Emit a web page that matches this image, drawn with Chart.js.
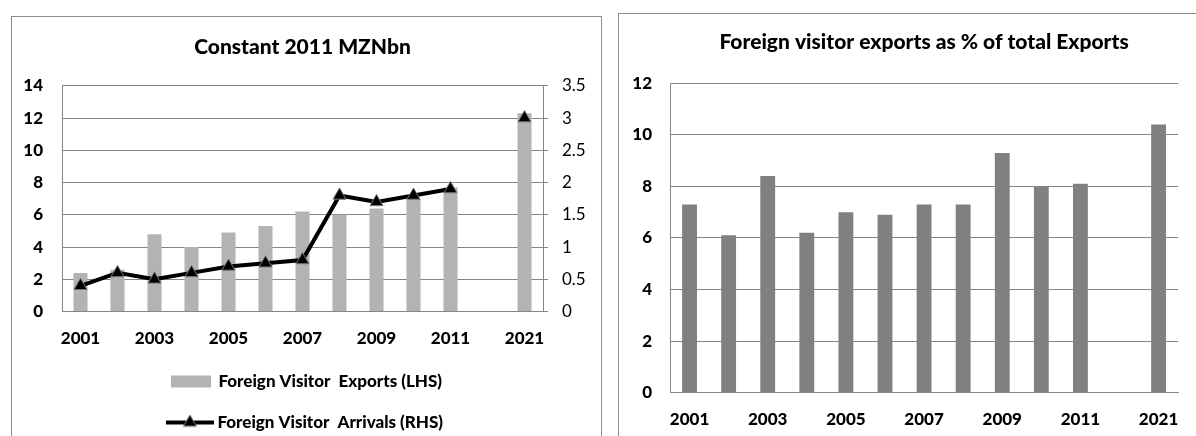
<!DOCTYPE html>
<html>
<head>
<meta charset="utf-8">
<script src="https://cdn.jsdelivr.net/npm/chart.js@4"></script>
<style>
  html, body { margin: 0; padding: 0; background: #fff; width: 1196px; height: 436px; overflow: hidden; }
  .box { position: absolute; border: 1px solid #8c8c8c; background: #fff; overflow: hidden; }
  #boxLeft { left: 11px; top: 16px; width: 589px; height: 440px; }
  #boxRight { left: 618px; top: 13px; width: 600px; height: 440px; }
  canvas { position: absolute; left: 0; top: 0; }
</style>
</head>
<body>
<div class="box" id="boxLeft"><canvas id="mznChart" width="588" height="424"></canvas></div>
<div class="box" id="boxRight"><canvas id="shareChart" width="577" height="422"></canvas></div>
<script>
// years on the x axis, with an empty slot before 2021
const years = ['2001', '2002', '2003', '2004', '2005', '2006', '2007', '2008', '2009', '2010', '2011', '', '2021'];

// constant 2011 MZN bn (left axis)
const visitorExports = [2.4, 2.6, 4.8, 4.0, 4.9, 5.3, 6.2, 6.0, 6.4, 7.0, 7.7, null, 12.3];
// arrivals, millions (right axis)
const visitorArrivals = [0.4, 0.6, 0.5, 0.6, 0.7, 0.75, 0.8, 1.8, 1.7, 1.8, 1.9, null, 3.0];
// foreign visitor exports as % of total exports
const exportShare = [7.3, 6.1, 8.4, 6.2, 7.0, 6.9, 7.3, 7.3, 9.3, 8.0, 8.1, null, 10.4];

const gridGrey = '#868686';
const lightBar = '#b3b3b3';
const darkBar = '#808080';

Chart.defaults.font.family = 'Lato';
Chart.defaults.color = '#000';

const boldFont = { family: 'Lato', size: 17, weight: 900 };
const titleFont = { family: 'Lato', size: 21, weight: 900 };

// only every other year gets a label
const everyOther = (v, i) => (i % 2 === 0 ? years[i] : '');

// small pictures used as legend symbols
function legendSymbol(draw) {
  const c = document.createElement('canvas');
  c.width = 50;
  c.height = 16;
  draw(c.getContext('2d'));
  return c;
}

const barSymbol = legendSymbol(ctx => {
  ctx.fillStyle = lightBar;
  ctx.fillRect(6, 2, 40, 12);
});

const lineSymbol = legendSymbol(ctx => {
  ctx.strokeStyle = '#000';
  ctx.lineWidth = 4;
  ctx.beginPath();
  ctx.moveTo(2, 8);
  ctx.lineTo(50, 8);
  ctx.stroke();
  const r = 7.5, cx = 26, cy = 8;
  ctx.beginPath();
  for (let k = 0; k < 3; k++) {
    const a = k * 2 * Math.PI / 3;
    const px = cx + Math.sin(a) * r, py = cy - Math.cos(a) * r;
    if (k === 0) ctx.moveTo(px, py); else ctx.lineTo(px, py);
  }
  ctx.closePath();
  ctx.fillStyle = '#000';
  ctx.fill();
  ctx.strokeStyle = '#777';
  ctx.lineWidth = 1;
  ctx.stroke();
});

function drawCharts() {
  new Chart(document.getElementById('mznChart'), {
    data: {
      labels: years,
      datasets: [
        {
          type: 'bar',
          label: 'Foreign Visitor  Exports (LHS)',
          data: visitorExports,
          backgroundColor: lightBar,
          categoryPercentage: 1,
          barPercentage: 0.38,
          yAxisID: 'y',
          order: 1
        },
        {
          type: 'line',
          label: 'Foreign Visitor  Arrivals (RHS)',
          data: visitorArrivals,
          borderColor: '#000',
          borderWidth: 4,
          pointStyle: 'triangle',
          pointRadius: 7.5,
          pointBackgroundColor: '#000',
          pointBorderColor: '#777',
          pointBorderWidth: 1,
          spanGaps: false,
          tension: 0,
          yAxisID: 'y1',
          order: 0
        }
      ]
    },
    options: {
      responsive: false,
      animation: false,
      layout: { padding: 0 },
      plugins: {
        title: {
          display: true,
          fullSize: false,
          text: 'Constant 2011 MZNbn',
          font: titleFont,
          color: '#000',
          padding: { top: 17.4, bottom: 26.2 }
        },
        legend: {
          position: 'bottom',
          labels: {
            usePointStyle: true,
            pointStyleWidth: 40,
            padding: 24,
            font: boldFont,
            color: '#000',
            generateLabels: chart => chart.data.datasets.map((ds, i) => ({
              text: ds.label,
              pointStyle: i === 0 ? barSymbol : lineSymbol,
              fillStyle: 'transparent',
              strokeStyle: 'transparent',
              lineWidth: 0,
              hidden: false,
              datasetIndex: i
            }))
          }
        },
        tooltip: { enabled: false }
      },
      scales: {
        x: {
          grid: { display: false, drawTicks: false },
          border: { display: true, color: gridGrey },
          ticks: { autoSkip: false, maxRotation: 0, padding: 17, font: boldFont, callback: everyOther },
          afterFit: scale => { scale.height = 37.4; }
        },
        y: {
          position: 'left',
          min: 0,
          max: 14,
          ticks: { stepSize: 2, padding: 19, font: boldFont },
          grid: { color: gridGrey, drawTicks: false },
          border: { display: true, color: gridGrey },
          afterFit: scale => { scale.width = 50; }
        },
        y1: {
          position: 'right',
          min: 0,
          max: 3.5,
          ticks: { stepSize: 0.5, padding: 14, font: { family: 'Lato', size: 17 }, callback: v => String(v) },
          grid: { drawOnChartArea: false, tickLength: 5, color: gridGrey },
          border: { display: true, color: gridGrey },
          afterFit: scale => { scale.width = 57; }
        }
      }
    }
  });

  new Chart(document.getElementById('shareChart'), {
    type: 'bar',
    data: {
      labels: years,
      datasets: [{
        label: 'Foreign visitor exports as % of total Exports',
        data: exportShare,
        backgroundColor: darkBar,
        categoryPercentage: 1,
        barPercentage: 0.38
      }]
    },
    options: {
      responsive: false,
      animation: false,
      layout: { padding: { right: 10, bottom: 7 } },
      plugins: {
        title: {
          display: true,
          fullSize: false,
          text: 'Foreign visitor exports as % of total Exports',
          font: titleFont,
          color: '#000',
          padding: { top: 15.4, bottom: 28.7 }
        },
        legend: { display: false },
        tooltip: { enabled: false }
      },
      scales: {
        x: {
          grid: { display: false, drawTicks: false },
          border: { display: true, color: gridGrey },
          ticks: { autoSkip: false, maxRotation: 0, padding: 17, font: boldFont, callback: everyOther },
          afterFit: scale => { scale.height = 36.4; }
        },
        y: {
          min: 0,
          max: 12,
          ticks: { stepSize: 2, padding: 18, font: boldFont },
          grid: { color: gridGrey, drawTicks: false },
          border: { display: true, color: gridGrey },
          afterFit: scale => { scale.width = 51; }
        }
      }
    }
  });
}

Promise.all([
  document.fonts.load('900 17px Lato'),
  document.fonts.load('17px Lato')
]).catch(() => {}).then(drawCharts);
</script>
</body>
</html>
